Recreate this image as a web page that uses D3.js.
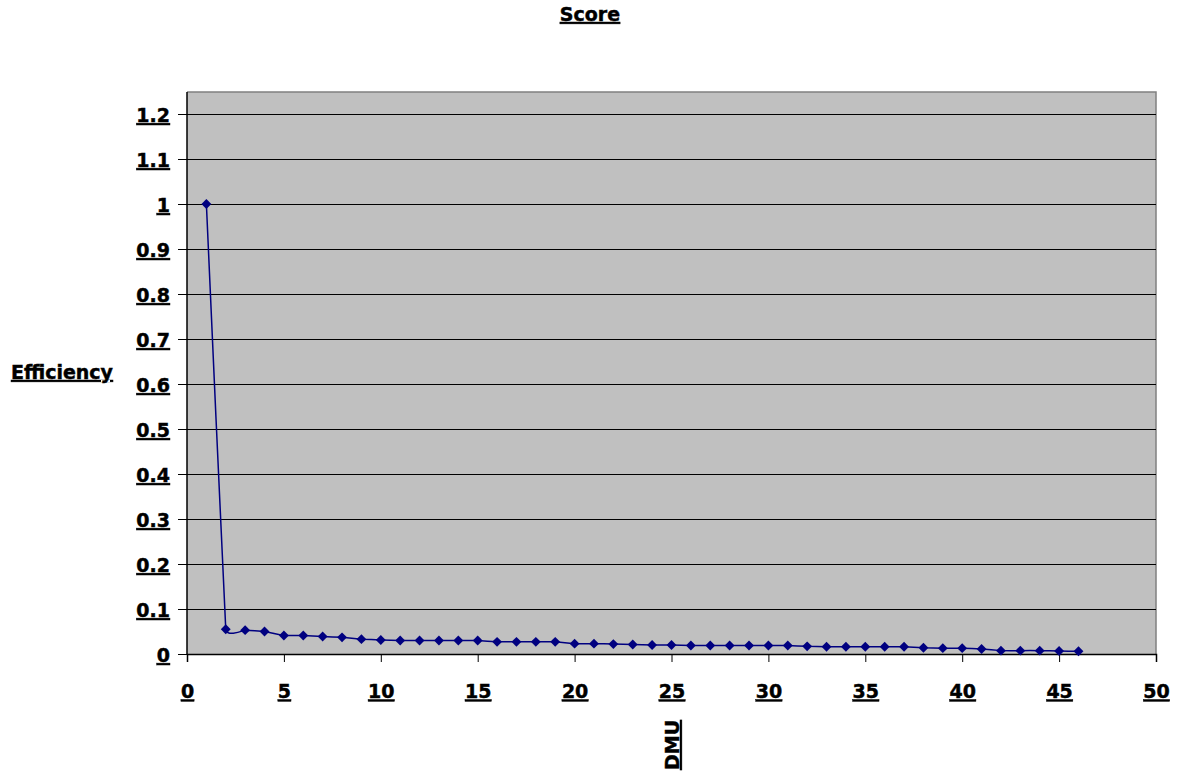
<!DOCTYPE html>
<html>
<head>
<meta charset="utf-8">
<script src="https://cdn.jsdelivr.net/npm/d3@7"></script>
<style>
  html, body { margin: 0; padding: 0; background: #fff; }
  text { font-family: "DejaVu Sans", Verdana, sans-serif; font-weight: bold; fill: #000;
         stroke: #000; stroke-width: 0.45px; }
  .u { text-decoration: underline; }
</style>
</head>
<body>
<svg id="chart" width="1187" height="774"></svg>
<script>
// DMU index (1..46) and efficiency score
const dmu = d3.range(1, 47);
const efficiency = [
  1.000, 0.055, 0.053, 0.050, 0.041, 0.041, 0.039, 0.037, 0.033, 0.031,
  0.030, 0.030, 0.030, 0.030, 0.030, 0.027, 0.027, 0.027, 0.027, 0.023,
  0.023, 0.022, 0.021, 0.020, 0.020, 0.019, 0.019, 0.019, 0.019, 0.019,
  0.019, 0.017, 0.016, 0.016, 0.016, 0.016, 0.016, 0.014, 0.013, 0.013,
  0.011, 0.0075, 0.0075, 0.0075, 0.0067, 0.006
];
const xTicks = [0, 5, 10, 15, 20, 25, 30, 35, 40, 45, 50];
const yTicks = [0, 0.1, 0.2, 0.3, 0.4, 0.5, 0.6, 0.7, 0.8, 0.9, 1, 1.1, 1.2];

const svg = d3.select("#chart");
const plot = { left: 187, right: 1156, top: 92, bottom: 654 };
const fontSize = "19px";

const x = d3.scaleLinear().domain([0, 50]).range([plot.left, plot.right]);
const y = d3.scaleLinear().domain([0, 1.2]).range([plot.bottom, 114]);

// plot background
svg.append("rect")
  .attr("x", plot.left).attr("y", plot.top)
  .attr("width", plot.right - plot.left).attr("height", plot.bottom - plot.top)
  .attr("fill", "#c0c0c0");

// top and right frame
svg.append("path")
  .attr("d", `M${plot.left},${plot.top}H${plot.right}V${plot.bottom}`)
  .attr("fill", "none").attr("stroke", "#808080").attr("stroke-width", 1.5);

// horizontal gridlines
svg.append("g").selectAll("line")
  .data(yTicks.filter(d => d > 0))
  .join("line")
  .attr("x1", plot.left).attr("x2", plot.right)
  .attr("y1", d => Math.round(y(d)) + 0.5).attr("y2", d => Math.round(y(d)) + 0.5)
  .attr("stroke", "#000").attr("stroke-width", 1);

// y axis
const yAxis = svg.append("g")
  .attr("transform", `translate(${plot.left},0)`)
  .call(d3.axisLeft(y).tickValues(yTicks).tickSize(9).tickPadding(8)
    .tickFormat(d => String(+d.toFixed(1))));
yAxis.select(".domain").attr("stroke", "#000").attr("stroke-width", 1.5)
  .attr("d", `M0,${plot.top}V${plot.bottom}`);
yAxis.selectAll(".tick line").attr("stroke", "#000");
yAxis.selectAll(".tick text").attr("class", "u").style("font-size", fontSize)
  .attr("fill", "#000").attr("dy", "0.4em");

// x axis
const xAxis = svg.append("g")
  .attr("transform", `translate(0,${plot.bottom})`)
  .call(d3.axisBottom(x).tickValues(xTicks).tickSize(8).tickPadding(23));
xAxis.select(".domain").attr("stroke", "#000").attr("stroke-width", 1.5);
xAxis.selectAll(".tick line").attr("stroke", "#000");
xAxis.selectAll(".tick text").attr("class", "u").style("font-size", fontSize).attr("fill", "#000");

// series line (smoothed)
const pts = dmu.map((d, i) => [d, efficiency[i]]);
svg.append("path")
  .datum(pts)
  .attr("fill", "none")
  .attr("stroke", "#000080")
  .attr("stroke-width", 1.5)
  .attr("d", d3.line().x(d => x(d[0])).y(d => y(d[1])).curve(d3.curveCardinal.tension(0.88)));

// diamond markers
svg.append("g").selectAll("path")
  .data(pts)
  .join("path")
  .attr("transform", d => `translate(${x(d[0])},${y(d[1])}) rotate(45)`)
  .attr("d", "M-3.5,-3.5H3.5V3.5H-3.5Z")
  .attr("fill", "#000080");

// titles
svg.append("text").attr("class", "u")
  .attr("x", 590).attr("y", 21).attr("text-anchor", "middle")
  .style("font-size", fontSize).text("Score");

svg.append("text").attr("class", "u")
  .attr("x", 11).attr("y", 379)
  .style("font-size", fontSize).text("Efficiency");

svg.append("text").attr("class", "u")
  .attr("transform", "translate(679,745) rotate(-90)")
  .attr("text-anchor", "middle")
  .style("font-size", fontSize).text("DMU");
</script>
</body>
</html>
